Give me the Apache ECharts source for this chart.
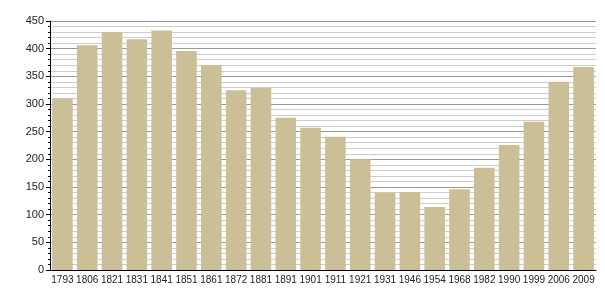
<!DOCTYPE html>
<html><head><meta charset="utf-8">
<script src="https://cdn.jsdelivr.net/npm/echarts@6/dist/echarts.min.js"></script>
<style>html,body{margin:0;padding:0;background:#fff}#c{width:605px;height:300px}</style>
</head><body><div id="c"></div>
<script>
const years = ['1793','1806','1821','1831','1841','1851','1861','1872','1881','1891','1901','1911','1921','1931','1946','1954','1968','1982','1990','1999','2006','2009'];
const population = [310,406,430,417,433,396,370,325,329,275,257,241,200,140,141,114,146,185,226,268,340,367];
const chart = echarts.init(document.getElementById('c'));
chart.setOption({
  animation:false,
  grid:{left:50,right:9,top:21,bottom:30},
  xAxis:{type:'category',data:years,
    axisLine:{lineStyle:{color:'#000',width:1}},
    axisTick:{show:false},
    axisLabel:{color:'#222',fontSize:10,fontFamily:'Liberation Sans, Arial',margin:5,interval:0}},
  yAxis:{type:'value',min:0,max:450,interval:50,
    axisLine:{show:true,lineStyle:{color:'#000'}},
    axisTick:{show:true,length:4,lineStyle:{color:'#000'}},
    minorTick:{show:true,splitNumber:5,length:2,lineStyle:{color:'#000'}},
    splitLine:{show:true,lineStyle:{color:'#999',width:1}},
    minorSplitLine:{show:true,lineStyle:{color:'#ccc',width:1}},
    axisLabel:{color:'#222',fontSize:11,fontFamily:'Liberation Sans, Arial',margin:6}},
  series:[{type:'bar',data:population,barCategoryGap:'17%',
    itemStyle:{color:'#cbbf97'}}]
});
</script></body></html>
